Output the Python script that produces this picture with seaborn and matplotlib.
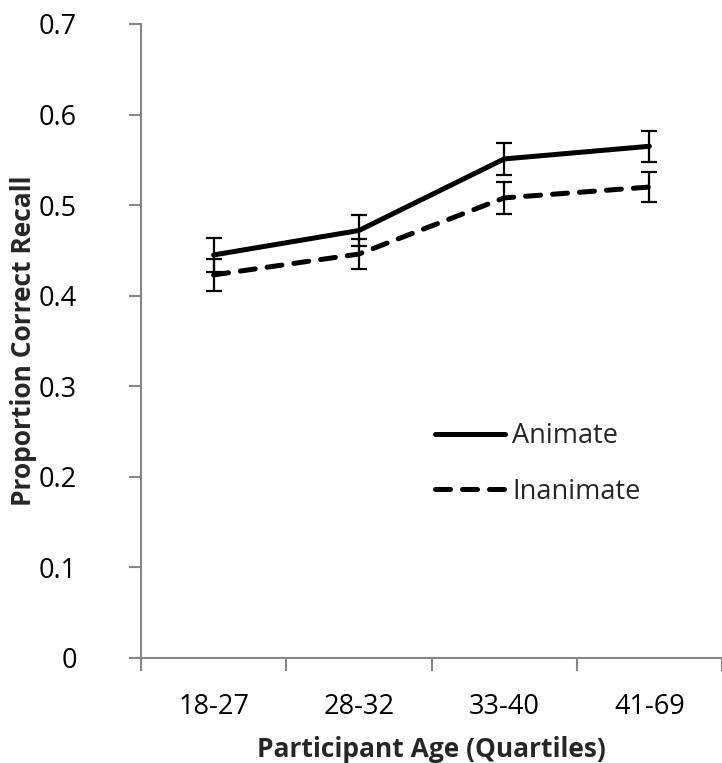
import matplotlib
matplotlib.use("Agg")
import matplotlib.pyplot as plt
import seaborn as sns
import pandas as pd
from matplotlib.lines import Line2D

# --- data ---
age_groups = ["18-27", "28-32", "33-40", "41-69"]
animate_mean = [0.445, 0.472, 0.551, 0.565]
animate_err = [0.019, 0.017, 0.018, 0.017]
inanimate_mean = [0.423, 0.446, 0.508, 0.520]
inanimate_err = [0.018, 0.017, 0.018, 0.017]
y_ticks = [0, 0.1, 0.2, 0.3, 0.4, 0.5, 0.6, 0.7]
y_tick_labels = ["0", "0.1", "0.2", "0.3", "0.4", "0.5", "0.6", "0.7"]

# --- style ---
axis_color = "#868686"
font_family = ["Open Sans", "DejaVu Sans"]
tick_fs = 19.5
label_fs = 19

sns.set_theme(style="ticks")
plt.rcParams["font.family"] = font_family

pos = list(range(len(age_groups)))
df = pd.DataFrame({
    "pos": pos * 2,
    "recall": animate_mean + inanimate_mean,
    "err": animate_err + inanimate_err,
    "cond": ["Animate"] * len(pos) + ["Inanimate"] * len(pos),
})

fig = plt.figure(figsize=(7.22, 7.63), dpi=100)
ax = fig.add_axes([141 / 722, 105 / 763, 581 / 722, 634 / 763])

sns.lineplot(
    data=df, x="pos", y="recall", style="cond",
    dashes={"Animate": "", "Inanimate": (3, 2.4)},
    color="black", linewidth=3.6, ax=ax, legend=False,
    solid_capstyle="round", dash_capstyle="round",
)

# error bars
for cond, g in df.groupby("cond"):
    ax.errorbar(g["pos"], g["recall"], yerr=g["err"], fmt="none",
                ecolor="black", elinewidth=1.6, capsize=6, capthick=1.6,
                zorder=3)

# legend
handles = [
    Line2D([], [], color="black", lw=3.6, solid_capstyle="round"),
    Line2D([], [], color="black", lw=3.6, dashes=(3, 2.4), dash_capstyle="round"),
]
fig.legend(handles, ["Animate", "Inanimate"], loc="center left",
           bbox_to_anchor=(435 / 722, 1 - 464 / 763), frameon=False,
           fontsize=tick_fs, handlelength=2.6, handletextpad=0.25,
           labelspacing=1.0, borderpad=0, borderaxespad=0)

# axes
ax.set_ylim(0, 0.7)
ax.set_xlim(-0.5, -0.5 + 581 / 148)
ax.set_yticks(y_ticks)
ax.set_yticklabels(y_tick_labels)
ax.set_xticks([p - 0.5 for p in pos] + [pos[-1] + 0.5])
ax.set_xticklabels([])
ax.set_xticks(pos, minor=True)
ax.set_xticklabels(age_groups, minor=True)
ax.tick_params(axis="x", which="minor", length=0, pad=25, labelsize=tick_fs, colors="black")
ax.tick_params(axis="x", which="major", length=9, width=1.5, color=axis_color)
ax.tick_params(axis="y", which="major", length=9, width=1.5, color=axis_color,
               labelsize=tick_fs, labelcolor="black", pad=37)

for side in ["top", "right"]:
    ax.spines[side].set_visible(False)
for side in ["left", "bottom"]:
    ax.spines[side].set_color(axis_color)
    ax.spines[side].set_linewidth(1.5)

ax.set_xlabel("Participant Age (Quartiles)", fontsize=label_fs, fontweight="bold", labelpad=11)
ax.set_ylabel("Proportion Correct Recall", fontsize=label_fs, fontweight="bold", labelpad=1)
ax.grid(False)

fig.savefig("out.png", dpi=100)
